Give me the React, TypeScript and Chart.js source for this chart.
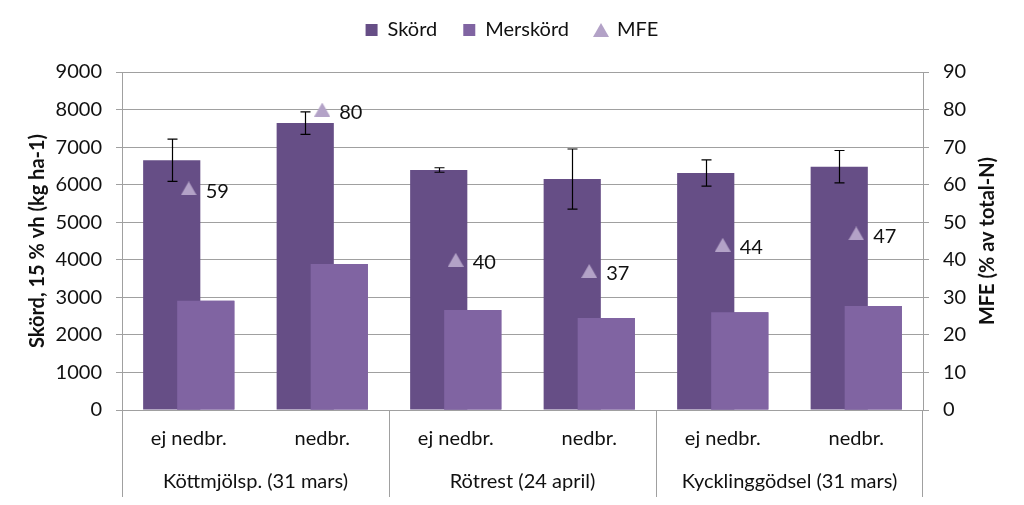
import { useEffect, useRef } from "react";
import { Chart, registerables } from "chart.js";

Chart.register(...registerables);

const subLabels = ["ej nedbr.", "nedbr.", "ej nedbr.", "nedbr.", "ej nedbr.", "nedbr."];
const groupLabels = ["Köttmjölsp. (31 mars)", "Rötrest (24 april)", "Kycklinggödsel (31 mars)"];
const skord = [6650, 7640, 6390, 6150, 6310, 6480];
const skordErr = [560, 300, 60, 800, 350, 430];
const merskord = [2910, 3890, 2660, 2450, 2600, 2770];
const mfe = [59, 80, 40, 37, 44, 47];

const leftMax = 9000;
const leftStep = 1000;
const rightMax = 90;
const rightStep = 10;

const leftTitle = "Skörd, 15 % vh (kg ha-1)";
const rightTitle = "MFE (% av total-N)";

const FONT = "Lato, 'Noto Sans', sans-serif";
const TEXT = "#111111";
const GRID = "#a0a0a0";
const MFE_COLOR = "#B3A2C7";

function makeTriangle(w: number, h: number, color: string) {
  const c = document.createElement("canvas");
  c.width = w;
  c.height = h;
  const g = c.getContext("2d");
  if (g) {
    g.fillStyle = color;
    g.beginPath();
    g.moveTo(w / 2, 0);
    g.lineTo(w, h);
    g.lineTo(0, h);
    g.closePath();
    g.fill();
  }
  return c;
}

const decorPlugin = {
  id: "decor",
  afterLayout(chart: any) {
    if (chart.legend) {
      chart.legend.top -= 22;
      chart.legend.bottom -= 22;
    }
  },
  afterDatasetDraw(chart: any, args: any) {
    if (args.index !== 0) return;
    // Merskörd overlaps Skörd: redraw it on top
    chart.getDatasetMeta(1).controller.draw();
    // error bars on Skörd
    const ctx = chart.ctx;
    const y = chart.scales.y;
    const meta = chart.getDatasetMeta(0);
    ctx.save();
    ctx.strokeStyle = "#000000";
    ctx.lineWidth = 1.2;
    meta.data.forEach((bar: any, i: number) => {
      const x = Math.round(bar.x) + 0.5;
      const hi = y.getPixelForValue(skord[i] + skordErr[i]);
      const lo = y.getPixelForValue(skord[i] - skordErr[i]);
      ctx.beginPath();
      ctx.moveTo(x, hi);
      ctx.lineTo(x, lo);
      ctx.moveTo(x - 5, hi);
      ctx.lineTo(x + 5, hi);
      ctx.moveTo(x - 5, lo);
      ctx.lineTo(x + 5, lo);
      ctx.stroke();
    });
    ctx.restore();
  },
  afterDraw(chart: any) {
    const ctx = chart.ctx;
    const xs = chart.scales.x;
    const area = chart.chartArea;
    ctx.save();
    // MFE labels
    ctx.fillStyle = TEXT;
    ctx.font = `20px ${FONT}`;
    ctx.textAlign = "left";
    ctx.textBaseline = "middle";
    chart.getDatasetMeta(2).data.forEach((p: any, i: number) => {
      ctx.fillText(String(mfe[i]), p.x + 17, p.y + 3);
    });
    // group labels and separators
    const half = (xs.getPixelForValue(1) - xs.getPixelForValue(0)) / 2;
    ctx.strokeStyle = GRID;
    ctx.lineWidth = 1;
    ctx.textAlign = "center";
    groupLabels.forEach((g, gi) => {
      const a = xs.getPixelForValue(gi * 2);
      const b = xs.getPixelForValue(gi * 2 + 1);
      ctx.fillText(g, (a + b) / 2, area.bottom + 72);
      const left = Math.round(a - half) + 0.5;
      ctx.beginPath();
      ctx.moveTo(left, area.bottom);
      ctx.lineTo(left, area.bottom + 87);
      ctx.stroke();
      if (gi === groupLabels.length - 1) {
        const right = Math.round(b + half) - 0.5;
        ctx.beginPath();
        ctx.moveTo(right, area.bottom);
        ctx.lineTo(right, area.bottom + 87);
        ctx.stroke();
      }
    });
    // right axis title (reads bottom to top)
    ctx.font = `bold 20px ${FONT}`;
    ctx.translate(988, (area.top + area.bottom) / 2);
    ctx.rotate(-Math.PI / 2);
    ctx.fillText(rightTitle, 0, 0);
    ctx.restore();
  },
};

export default function App() {
  const ref = useRef<HTMLCanvasElement | null>(null);

  useEffect(() => {
    document.body.style.margin = "0";
    const canvas = ref.current;
    if (!canvas) return;
    Chart.defaults.font.family = FONT;
    Chart.defaults.color = TEXT;
    const tri = makeTriangle(16, 14, MFE_COLOR);
    const chart = new Chart(canvas, {
      type: "bar",
      data: {
        labels: subLabels,
        datasets: [
          {
            label: "Skörd",
            data: skord,
            backgroundColor: "#664E86",
            order: 0,
            pointStyle: "rect",
          } as any,
          {
            label: "Merskörd",
            data: merskord,
            backgroundColor: "#8064A2",
            order: 0,
            pointStyle: "rect",
          } as any,
          {
            type: "line",
            label: "MFE",
            data: mfe,
            yAxisID: "y2",
            showLine: false,
            pointStyle: tri,
            pointRadius: 8,
            pointHoverRadius: 8,
            backgroundColor: MFE_COLOR,
            borderColor: MFE_COLOR,
            borderWidth: 0,
            order: -1,
          } as any,
        ],
      },
      options: {
        responsive: false,
        animation: false,
        devicePixelRatio: 1,
        layout: { padding: { top: 0, left: 0, right: 0, bottom: 0 } },
        datasets: {
          bar: { categoryPercentage: 0.51, barPercentage: 1.68 },
        } as any,
        plugins: {
          tooltip: { enabled: false },
          legend: {
            position: "top",
            labels: {
              usePointStyle: true,
              boxWidth: 12,
              boxHeight: 12,
              padding: 26,
              color: TEXT,
              font: { size: 20, family: FONT },
              sort: (a: any, b: any) => a.datasetIndex - b.datasetIndex,
            },
          },
        },
        scales: {
          x: {
            type: "category",
            grid: { display: false, drawTicks: false },
            border: { display: true, color: GRID },
            ticks: { font: { size: 20 }, color: TEXT, padding: 17, maxRotation: 0, autoSkip: false },
            afterFit: (s: any) => {
              s.height = 95;
            },
          },
          y: {
            position: "left",
            min: 0,
            max: leftMax,
            ticks: {
              stepSize: leftStep,
              font: { size: 20 },
              color: TEXT,
              padding: 14,
              callback: (v: any) => String(v),
            },
            grid: { color: GRID, tickLength: 6 },
            border: { color: GRID },
            title: {
              display: true,
              text: leftTitle,
              font: { size: 20, weight: "bold" },
              color: TEXT,
              padding: { top: 26, bottom: 0 },
            },
            afterFit: (s: any) => {
              s.width = 122;
              s.paddingTop = 72;
            },
          },
          y2: {
            position: "right",
            min: 0,
            max: rightMax,
            ticks: {
              stepSize: rightStep,
              font: { size: 20 },
              color: TEXT,
              padding: 14,
              callback: (v: any) => String(v),
            },
            grid: { drawOnChartArea: false, color: GRID, tickLength: 6 },
            border: { color: GRID },
            afterFit: (s: any) => {
              s.width = 101;
            },
          },
        },
      } as any,
      plugins: [decorPlugin],
    });
    return () => chart.destroy();
  }, []);

  return (
    <div style={{ width: 1024, height: 505 }}>
      <canvas ref={ref} width={1024} height={505} />
    </div>
  );
}
